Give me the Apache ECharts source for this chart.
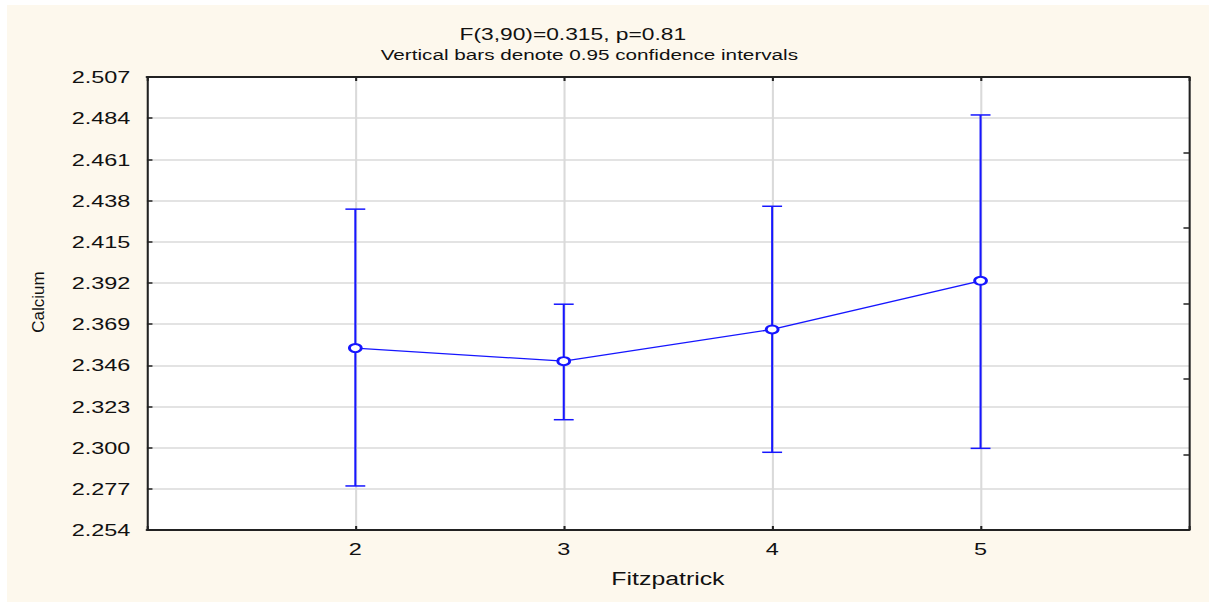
<!DOCTYPE html>
<html>
<head>
<meta charset="utf-8">
<script src="https://cdn.jsdelivr.net/npm/echarts@6/dist/echarts.min.js"></script>
<style>
  html, body { margin: 0; padding: 0; background: #fff; }
  #chart {
    position: absolute;
    left: 7px;
    top: 5px;
    height: 597px;
    transform-origin: 0 0;
  }
</style>
</head>
<body>
<div id="chart"></div>
<script>
// Fitzpatrick group means of calcium with 0.95 confidence intervals
const groups = [2, 3, 4, 5]
const means = [2.3556, 2.3483, 2.3660, 2.3932]
const lower = [2.2786, 2.3156, 2.2974, 2.2996]
const upper = [2.4332, 2.3801, 2.4348, 2.4858]

const yMin = 2.254
const yMax = 2.507
const yStep = 0.023
const xMin = 1
const xMax = 6

const titleLines = ['F(3,90)=0.315, p=0.81', 'Vertical bars denote 0.95 confidence intervals']

// the original picture is stretched sideways, so draw narrower and scale
const stretch = 1.38
const el = document.getElementById('chart')
el.style.width = (1202 / stretch) + 'px'
el.style.transform = 'scaleX(' + stretch + ')'

const font = '"Liberation Sans", Arial, sans-serif'
const blue = '#1616ff'
const grid = '#dadada'
const frame = '#222'

const chart = echarts.init(el, null, { renderer: 'svg' })

chart.setOption({
  backgroundColor: '#fdf8ed',
  animation: false,
  title: [
    {
      text: titleLines[0],
      left: 405, top: 16, textAlign: 'center',
      textStyle: { fontFamily: font, fontSize: 16.5, fontWeight: 'normal', color: '#111' }
    },
    {
      text: titleLines[1],
      left: 417, top: 38, textAlign: 'center',
      textStyle: { fontFamily: font, fontSize: 15, fontWeight: 'normal', color: '#111' }
    }
  ],
  graphic: [{
    type: 'text',
    x: 22.5,
    y: 297,
    rotation: Math.PI / 2,
    scaleY: 1 / stretch,
    style: {
      text: 'Calcium',
      fontFamily: font,
      fontSize: 17,
      fill: '#111',
      textAlign: 'center',
      textVerticalAlign: 'middle'
    }
  }],
  grid: {
    left: 101.4,
    right: 14.5,
    top: 72,
    bottom: 72,
    show: true,
    backgroundColor: '#fff',
    borderWidth: 0
  },
  xAxis: [
    {
      type: 'value',
      min: xMin,
      max: xMax,
      interval: 1,
      name: 'Fitzpatrick',
      nameLocation: 'middle',
      nameGap: 40,
      nameTextStyle: { fontFamily: font, fontSize: 18, color: '#111' },
      axisLine: { show: true, onZero: false, lineStyle: { color: frame, width: 2 } },
      axisTick: { show: true, inside: true, length: 4, lineStyle: { color: frame, width: 1.5 } },
      axisLabel: {
        fontFamily: font, fontSize: 17, color: '#111', margin: 10,
        formatter: v => (groups.indexOf(v) >= 0 ? String(v) : '')
      },
      splitLine: {
        show: true,
        showMinLine: false,
        showMaxLine: false,
        lineStyle: { color: grid, width: 1.5 }
      }
    },
    {
      type: 'value',
      position: 'top',
      min: xMin,
      max: xMax,
      interval: 1,
      axisLine: { show: true, onZero: false, lineStyle: { color: frame, width: 2 } },
      axisTick: { show: true, inside: true, length: 4, lineStyle: { color: frame, width: 1.5 } },
      axisLabel: { show: false },
      splitLine: { show: false }
    }
  ],
  yAxis: [
    {
      type: 'value',
      min: yMin,
      max: yMax,
      interval: yStep,
      axisLine: { show: true, onZero: false, lineStyle: { color: frame, width: 1.5 } },
      axisTick: { show: true, inside: true, length: 4, lineStyle: { color: frame, width: 1.5 } },
      axisLabel: {
        fontFamily: font, fontSize: 17, color: '#111', margin: 12,
        formatter: v => v.toFixed(3)
      },
      splitLine: {
        show: true,
        showMinLine: false,
        showMaxLine: false,
        lineStyle: { color: grid, width: 1.5 }
      }
    },
    {
      type: 'value',
      position: 'right',
      min: 0,
      max: 6,
      interval: 1,
      axisLine: { show: true, onZero: false, lineStyle: { color: frame, width: 1.5 } },
      axisTick: { show: true, inside: true, length: 4, lineStyle: { color: frame, width: 1.5 } },
      axisLabel: { show: false },
      splitLine: { show: false }
    }
  ],
  series: [
    {
      type: 'custom',
      xAxisIndex: 0,
      yAxisIndex: 0,
      data: groups.map((g, i) => [g, lower[i], upper[i]]),
      encode: { x: 0, y: [1, 2] },
      z: 3,
      renderItem(params, api) {
        const lo = api.coord([api.value(0), api.value(1)])
        const hi = api.coord([api.value(0), api.value(2)])
        const half = 7.2
        const style = { stroke: blue, lineWidth: 1.5 }
        return {
          type: 'group',
          children: [
            { type: 'line', shape: { x1: lo[0], y1: lo[1], x2: hi[0], y2: hi[1] }, style },
            { type: 'line', shape: { x1: hi[0] - half, y1: hi[1], x2: hi[0] + half, y2: hi[1] }, style },
            { type: 'line', shape: { x1: lo[0] - half, y1: lo[1], x2: lo[0] + half, y2: lo[1] }, style }
          ]
        }
      }
    },
    {
      type: 'line',
      xAxisIndex: 0,
      yAxisIndex: 0,
      data: groups.map((g, i) => [g, means[i]]),
      z: 4,
      symbol: 'emptyCircle',
      symbolSize: [8.6, 8],
      lineStyle: { color: blue, width: 1.3 },
      itemStyle: { color: blue, borderColor: blue, borderWidth: 1.6 }
    }
  ]
})
</script>
</body>
</html>
